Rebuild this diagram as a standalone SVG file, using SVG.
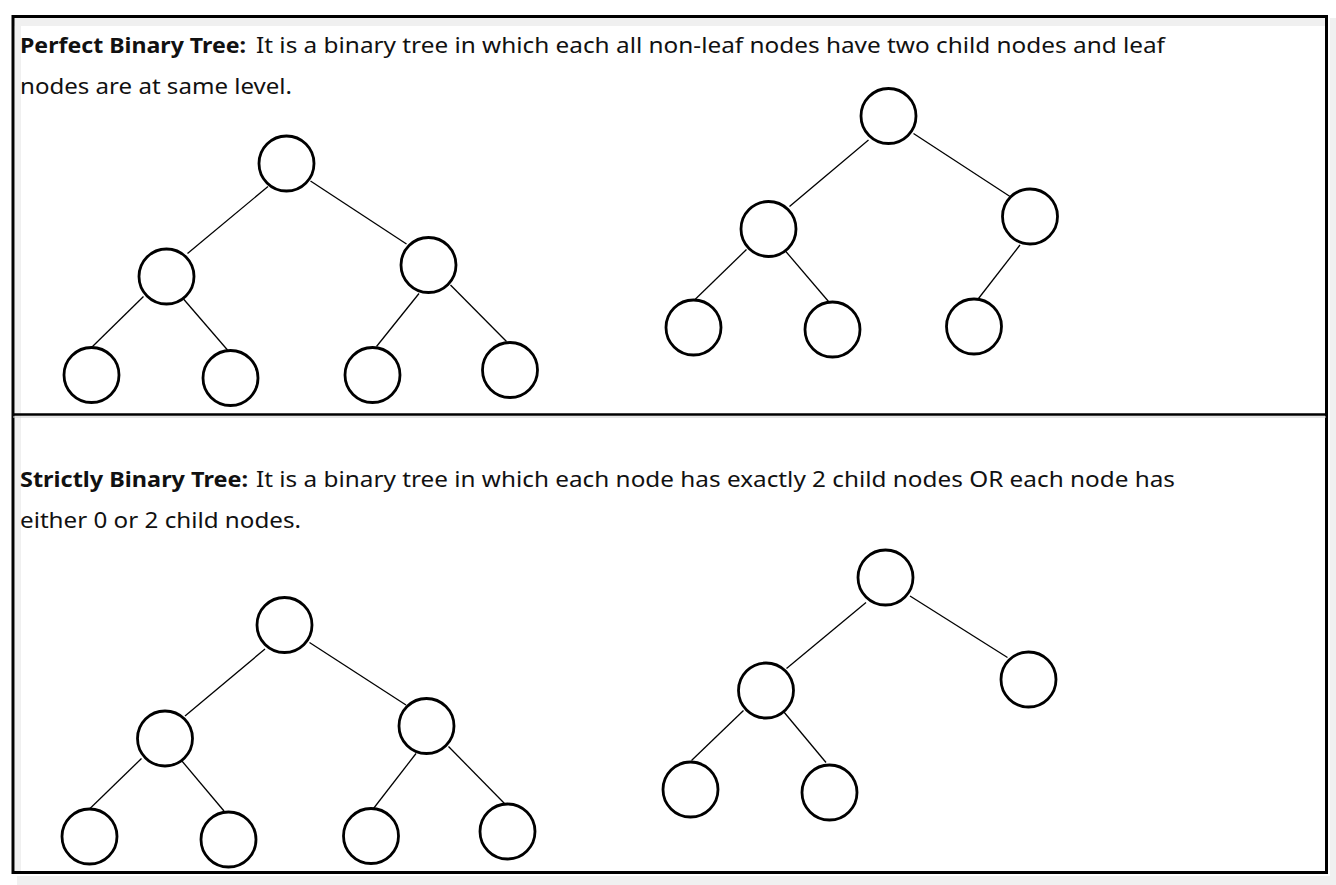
<svg xmlns="http://www.w3.org/2000/svg" width="1336" height="885" viewBox="0 0 1336 885">
<style>
.node{fill:#fff;stroke:#000;stroke-width:2.8}
.edge{stroke:#000;stroke-width:1.3;fill:none}
.t{font-family:"Noto Sans","Open Sans","Liberation Sans",sans-serif;font-size:22px;fill:#111}
.b{font-weight:bold}
.band{fill:#f0f0f0}
</style>
<rect width="1336" height="885" fill="#fff"/>
<g id="background">
<rect class="band" x="14" y="18" width="1311" height="8"/>
<rect class="band" x="15" y="18" width="6" height="853"/>
<rect class="band" x="1330" y="18" width="6" height="867"/>
<rect class="band" x="17" y="876" width="1313" height="9"/>
<rect x="13" y="16.5" width="1313.5" height="856" fill="none" stroke="#000" stroke-width="3"/>
<line x1="13" y1="414.5" x2="1326.5" y2="414.5" stroke="#000" stroke-width="2.6"/>
<line x1="13" y1="417" x2="1326" y2="417" stroke="#ccc" stroke-width="1"/>
</g>
<g id="text">
<text class="t b" x="20" y="53" textLength="226" lengthAdjust="spacingAndGlyphs">Perfect Binary Tree:</text>
<text class="t" x="256" y="53" textLength="909" lengthAdjust="spacingAndGlyphs">It is a binary tree in which each all non-leaf nodes have two child nodes and leaf</text>
<text class="t" x="20" y="94" textLength="272" lengthAdjust="spacingAndGlyphs">nodes are at same level.</text>
<text class="t b" x="20" y="487" textLength="228" lengthAdjust="spacingAndGlyphs">Strictly Binary Tree:</text>
<text class="t" x="256" y="487" textLength="919" lengthAdjust="spacingAndGlyphs">It is a binary tree in which each node has exactly 2 child nodes OR each node has</text>
<text class="t" x="20" y="528" textLength="281" lengthAdjust="spacingAndGlyphs">either 0 or 2 child nodes.</text>
</g>
<g id="connectors">
<line class="edge" x1="268" y1="186.5" x2="187.5" y2="253.5"/>
<line class="edge" x1="310.5" y1="181" x2="406.5" y2="244"/>
<line class="edge" x1="143.5" y1="296.5" x2="91.5" y2="347.5"/>
<line class="edge" x1="183.5" y1="299" x2="227.5" y2="350"/>
<line class="edge" x1="419" y1="293.5" x2="376.5" y2="346.5"/>
<line class="edge" x1="450.5" y1="285" x2="506.5" y2="341.5"/>
<line class="edge" x1="868.5" y1="140" x2="789.5" y2="206.5"/>
<line class="edge" x1="913.5" y1="133.5" x2="1010" y2="196.5"/>
<line class="edge" x1="746.5" y1="249.5" x2="695" y2="299.5"/>
<line class="edge" x1="785" y1="250.5" x2="828.5" y2="301.5"/>
<line class="edge" x1="1020" y1="245" x2="978.5" y2="298.5"/>
<line class="edge" x1="265" y1="649" x2="185" y2="716"/>
<line class="edge" x1="309.5" y1="642.5" x2="406" y2="705"/>
<line class="edge" x1="141.5" y1="758.5" x2="90" y2="808.5"/>
<line class="edge" x1="181.5" y1="760.5" x2="224" y2="811"/>
<line class="edge" x1="416" y1="753.5" x2="373.5" y2="808.5"/>
<line class="edge" x1="448.5" y1="746.5" x2="504.5" y2="803.5"/>
<line class="edge" x1="866" y1="602.5" x2="786.5" y2="668.5"/>
<line class="edge" x1="910" y1="596" x2="1007.5" y2="657.5"/>
<line class="edge" x1="743.5" y1="710.5" x2="691.5" y2="760.5"/>
<line class="edge" x1="783.5" y1="711.5" x2="826" y2="762.5"/>
</g>
<g id="n1"><circle class="node" cx="286.5" cy="163.5" r="27.5"/></g>
<g id="n2"><circle class="node" cx="166.5" cy="276.5" r="27.5"/></g>
<g id="n3"><circle class="node" cx="428.5" cy="265" r="27.5"/></g>
<g id="n4"><circle class="node" cx="91.5" cy="375" r="27.5"/></g>
<g id="n5"><circle class="node" cx="230.5" cy="378" r="27.5"/></g>
<g id="n6"><circle class="node" cx="372.5" cy="375" r="27.5"/></g>
<g id="n7"><circle class="node" cx="510" cy="370" r="27.5"/></g>
<g id="n8"><circle class="node" cx="888.5" cy="116" r="27.5"/></g>
<g id="n9"><circle class="node" cx="768.5" cy="229" r="27.5"/></g>
<g id="n10"><circle class="node" cx="1030" cy="216.5" r="27.5"/></g>
<g id="n11"><circle class="node" cx="693.5" cy="327.5" r="27.5"/></g>
<g id="n12"><circle class="node" cx="832.5" cy="329.5" r="27.5"/></g>
<g id="n13"><circle class="node" cx="974" cy="326.5" r="27.5"/></g>
<g id="n14"><circle class="node" cx="284.5" cy="625" r="27.5"/></g>
<g id="n15"><circle class="node" cx="165" cy="738.5" r="27.5"/></g>
<g id="n16"><circle class="node" cx="426.5" cy="726" r="27.5"/></g>
<g id="n17"><circle class="node" cx="89.5" cy="836.5" r="27.5"/></g>
<g id="n18"><circle class="node" cx="228.5" cy="839.5" r="27.5"/></g>
<g id="n19"><circle class="node" cx="371" cy="836" r="27.5"/></g>
<g id="n20"><circle class="node" cx="507.5" cy="831.5" r="27.5"/></g>
<g id="n21"><circle class="node" cx="885.5" cy="577.5" r="27.5"/></g>
<g id="n22"><circle class="node" cx="766" cy="690.5" r="27.5"/></g>
<g id="n23"><circle class="node" cx="1028.5" cy="679.5" r="27.5"/></g>
<g id="n24"><circle class="node" cx="690.5" cy="789.5" r="27.5"/></g>
<g id="n25"><circle class="node" cx="829.5" cy="792.5" r="27.5"/></g>
</svg>
